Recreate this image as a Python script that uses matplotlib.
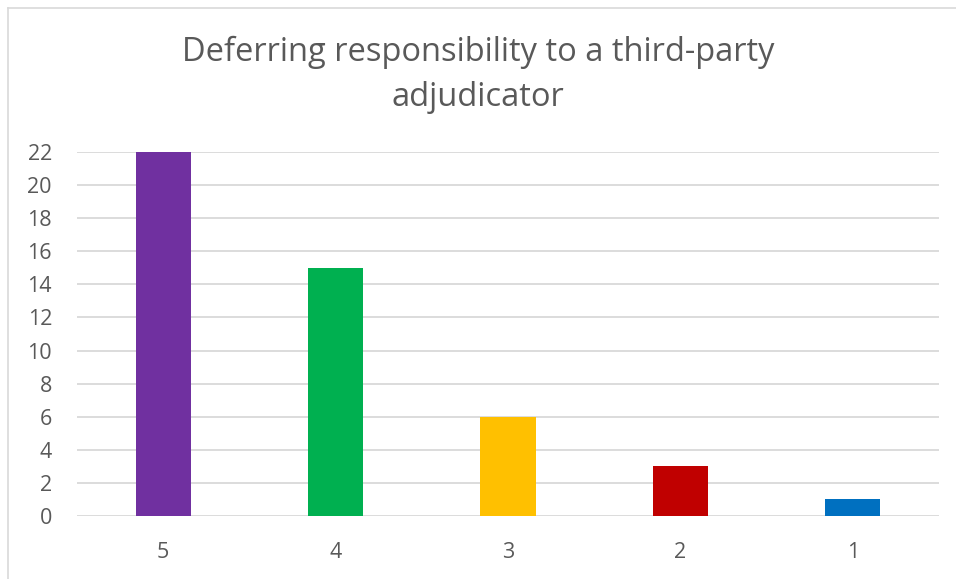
"""Deferring responsibility to a third-party adjudicator - bar chart."""

import matplotlib

matplotlib.use("Agg")
import matplotlib.pyplot as plt
from matplotlib.lines import Line2D

categorias = ["5", "4", "3", "2", "1"]
valores = [22, 15, 6, 3, 1]
cores = ["#7030A0", "#00B050", "#FFC000", "#C00000", "#0070C0"]
yticks = [0, 2, 4, 6, 8, 10, 12, 14, 16, 18, 20, 22]

plt.rcParams["font.family"] = ["Open Sans", "DejaVu Sans"]
CINZA = "#595959"

W, H = 956, 579
fig = plt.figure(figsize=(W / 100, H / 100), dpi=100)
ax = fig.add_axes([77 / W, 1 - 516 / H, (939 - 77) / W, (516 - 152) / H])

x = range(len(categorias))
ax.bar(x, valores, width=0.32, color=cores, zorder=3)
ax.set_xlim(-0.5, len(categorias) - 0.5)
ax.set_ylim(0, 22)
ax.set_xticks(list(x))
ax.set_xticklabels(categorias)
ax.set_yticks(yticks)
ax.tick_params(axis="both", length=0, labelsize=15.5, colors=CINZA)
ax.tick_params(axis="x", pad=19)
ax.tick_params(axis="y", pad=18)
for lbl in ax.get_yticklabels():
    lbl.set_horizontalalignment("right")
ax.grid(axis="y", color="#d9d9d9", linewidth=1.3, zorder=0)
for lado in ax.spines.values():
    lado.set_visible(False)

fig.text(0.5, 1 - 52 / H, "Deferring responsibility to a third-party",
         ha="center", va="center", fontsize=23.5, color=CINZA)
fig.text(0.5, 1 - 97 / H, "adjudicator",
         ha="center", va="center", fontsize=23.5, color=CINZA)

# moldura da area do grafico
fig.add_artist(Line2D([7.5 / W, 7.5 / W], [0, 1 - 7.5 / H], transform=fig.transFigure,
                      color="#d9d9d9", linewidth=1.2))
fig.add_artist(Line2D([7.5 / W, 1], [1 - 7.5 / H, 1 - 7.5 / H], transform=fig.transFigure,
                      color="#d9d9d9", linewidth=1.2))

fig.savefig("out.png", dpi=100)
